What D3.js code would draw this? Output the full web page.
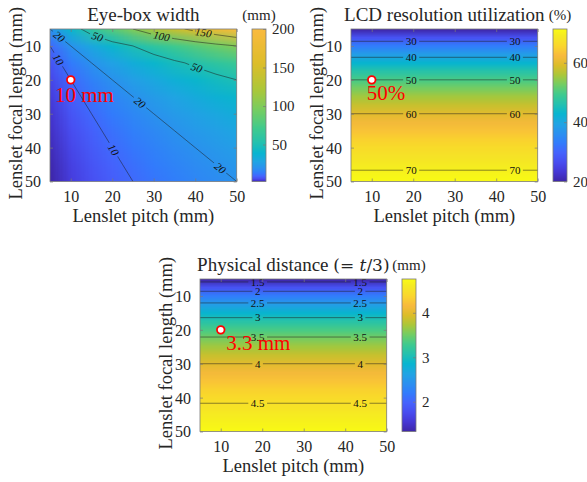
<!DOCTYPE html>
<html>
<head>
<meta charset="utf-8">
<script src="https://cdn.jsdelivr.net/npm/d3@7"></script>
<style>
  body { margin: 0; background: #fff; }
  svg { display: block; }
</style>
</head>
<body>
<div id="chart"></div>
<script>
// grid axes (mm)
const pitch = [5, 10, 15, 20, 25, 30, 35, 40, 45, 50];
const focal = [5, 10, 15, 20, 25, 30, 35, 40, 45, 50];
const focalFine = [5, 7.5, 10, 12.5, 15, 17.5, 20, 22.5, 25, 27.5, 30, 32.5, 35, 37.5, 40, 42.5, 45, 47.5, 50];

// eye-box width (mm), one row per focal length, one column per pitch
const eyeBox = [
  [20, 40, 60, 80, 100, 120, 140, 160, 180, 200],
  [10, 20, 30, 40, 50, 60, 70, 80, 90, 100],
  [6.7, 13.3, 20, 26.7, 33.3, 40, 46.7, 53.3, 60, 66.7],
  [5, 10, 15, 20, 25, 30, 35, 40, 45, 50],
  [4, 8, 12, 16, 20, 24, 28, 32, 36, 40],
  [3.3, 6.7, 10, 13.3, 16.7, 20, 23.3, 26.7, 30, 33.3],
  [2.9, 5.7, 8.6, 11.4, 14.3, 17.1, 20, 22.9, 25.7, 28.6],
  [2.5, 5, 7.5, 10, 12.5, 15, 17.5, 20, 22.5, 25],
  [2.2, 4.4, 6.7, 8.9, 11.1, 13.3, 15.6, 17.8, 20, 22.2],
  [2, 4, 6, 8, 10, 12, 14, 16, 18, 20]
];
// LCD resolution utilization (%) and physical distance (mm) per focal length (same for every pitch)
const lcdUtil = [20.0, 27.3, 33.3, 38.5, 42.9, 46.7, 50.0, 52.9, 55.6, 57.9, 60.0, 61.9, 63.6, 65.2, 66.7, 68.0, 69.2, 70.4, 71.4];
const physDist = [1.33, 1.82, 2.22, 2.56, 2.86, 3.11, 3.33, 3.53, 3.70, 3.86, 4.00, 4.13, 4.24, 4.35, 4.44, 4.53, 4.62, 4.69, 4.76];

// contour levels
const eyeLevels = [10, 20, 50, 100, 150];
const lcdLevels = [30, 40, 50, 60, 70];
const distLevels = [1.5, 2, 2.5, 3, 3.5, 4, 4.5];

// where the contour labels sit: [level, pitch, focal]
const eyeLabelSpots = [[20, 7.2, 7.2], [50, 16.6, 6.6], [100, 32, 6.3], [150, 42, 5.7], [50, 40.4, 16.2],
  [10, 7, 14], [20, 26.7, 26.7], [10, 20.3, 40.6], [20, 46, 46]];
const lcdLabelSpots = lcdLevels.flatMap(l => [[l, 19.5, 20], [l, 44.5, 20]]);
const distLabelSpots = distLevels.flatMap(l => [[l, 18.9, 20], [l, 43.6, 20]]);

// ticks
const axisTicks = [10, 20, 30, 40, 50];
const eyeCbTicks = [50, 100, 150, 200];
const lcdCbTicks = [20, 40, 60];
const distCbTicks = [2, 3, 4];

// design point markers
const designPitch = 10, designFocal = 20;
const noteTexts = ["10 mm", "50%", "3.3 mm"];

const W = 186.7, H = 152.5;
const textColor = "#262626";
const serif = "'Liberation Serif','Times New Roman',serif";
// parula (original), every 4th of 64 entries
const parulaStops = ["#3e26a8", "#4537d5", "#484df0", "#4563fd", "#327cfc", "#2b91ef", "#20a5e3", "#08b5d0",
  "#24c1ae", "#3fca8e", "#72cd64", "#abc739", "#dcbd29", "#f8ba3d", "#fad62d", "#f5e924", "#f9fb15"];
const parulaPos = [0, 4, 8, 12, 16, 20, 24, 28, 32, 36, 40, 44, 48, 52, 56, 60, 63].map(r => r / 63);
const parula = d3.scaleLinear().domain(parulaPos).range(parulaStops).clamp(true);

const eyeIdx = d3.scalePow().exponent(0.2).domain([2, 358]).range([0, 1]).clamp(true);
const lcdIdx = d3.scaleLinear().domain(d3.extent(lcdUtil)).range([0, 1]).clamp(true);
const distIdx = d3.scaleLinear().domain(d3.extent(physDist)).range([0, 1]).clamp(true);

const panels = [
  {left: 50, top: 29, cbx: 252, title: "Eye-box width", unit: "(mm)",
   cols: pitch, rows: focal, grid: eyeBox, cdomain: [2, 200], color: v => parula(eyeIdx(v)),
   levels: eyeLevels, spots: eyeLabelSpots, italic: true, cbTicks: eyeCbTicks,
   note: noteTexts[0], ndx: -15.7, ndy: 22},
  {left: 351, top: 29, cbx: 553, title: "LCD resolution utilization", unit: "(%)",
   cols: [5, 50], rows: focalFine, grid: lcdUtil.map(v => [v, v]), cdomain: d3.extent(lcdUtil), color: v => parula(lcdIdx(v)),
   levels: lcdLevels, spots: lcdLabelSpots, italic: false, cbTicks: lcdCbTicks,
   note: noteTexts[1], ndx: -5, ndy: 19.7},
  {left: 200, top: 279, cbx: 402, title: null, unit: "(mm)",
   cols: [5, 50], rows: focalFine, grid: physDist.map(v => [v, v]), cdomain: d3.extent(physDist), color: v => parula(distIdx(v)),
   levels: distLevels, spots: distLabelSpots, italic: false, cbTicks: distCbTicks,
   note: noteTexts[2], ndx: 5.5, ndy: 19.7}
];

const svg = d3.select("#chart").append("svg")
  .attr("width", 587)
  .attr("height", 482)
  .style("font-family", serif);
const defs = svg.append("defs");

panels.forEach(drawPanel);

function drawPanel(pn, k) {
  const x = d3.scaleLinear().domain([5, 50]).range([pn.left, pn.left + W]);
  const y = d3.scaleLinear().domain([5, 50]).range([pn.top, pn.top + H]);
  const n = pn.cols.length, m = pn.rows.length;

  // field: grid colours, upscaled smoothly
  const small = document.createElement("canvas");
  small.width = n; small.height = m;
  const sctx = small.getContext("2d");
  const img = sctx.createImageData(n, m);
  pn.grid.forEach((row, j) => row.forEach((v, i) => {
    const c = d3.rgb(pn.color(v));
    const o = (j * n + i) * 4;
    img.data[o] = c.r; img.data[o + 1] = c.g; img.data[o + 2] = c.b; img.data[o + 3] = 255;
  }));
  sctx.putImageData(img, 0, 0);
  const big = document.createElement("canvas");
  big.width = Math.round(W); big.height = Math.round(H);
  const bctx = big.getContext("2d");
  bctx.imageSmoothingEnabled = true;
  bctx.drawImage(small, 0.5, 0.5, n - 1, m - 1, 0, 0, big.width, big.height);
  svg.append("image")
    .attr("href", big.toDataURL())
    .attr("x", pn.left).attr("y", pn.top)
    .attr("width", W).attr("height", H)
    .attr("preserveAspectRatio", "none");

  // contours
  const gx = c => pn.cols[0] + (c - 0.5) * (pn.cols[n - 1] - pn.cols[0]) / (n - 1);
  const gy = c => pn.rows[0] + (c - 0.5) * (pn.rows[m - 1] - pn.rows[0]) / (m - 1);
  const conts = d3.contours().size([n, m]).thresholds(pn.levels)(pn.grid.flat());
  const path = d3.geoPath(d3.geoTransform({
    point: function (px, py) { this.stream.point(x(gx(px)), y(gy(py))); }
  }));

  const mask = defs.append("mask").attr("id", "cmask" + k)
    .attr("maskUnits", "userSpaceOnUse")
    .attr("x", pn.left).attr("y", pn.top).attr("width", W).attr("height", H);
  mask.append("rect").attr("x", pn.left).attr("y", pn.top).attr("width", W).attr("height", H).attr("fill", "#fff");

  svg.append("g").attr("mask", `url(#cmask${k})`)
    .selectAll("path").data(conts).enter().append("path")
    .attr("d", path)
    .attr("fill", "none")
    .attr("stroke", "#1e1e1e")
    .attr("stroke-width", 0.6)
    .attr("stroke-opacity", 0.85);

  // contour labels, snapped onto their line
  const segsByLevel = new Map();
  conts.forEach(c => {
    const segs = [];
    c.coordinates.forEach(poly => poly.forEach(ring => {
      const pts = ring.map(p => [x(gx(p[0])), y(gy(p[1]))]);
      for (let i = 1; i < pts.length; i++) {
        const a = pts[i - 1], b = pts[i];
        const inside = q => q[0] >= pn.left - 0.5 && q[0] <= pn.left + W + 0.5 && q[1] >= pn.top - 0.5 && q[1] <= pn.top + H + 0.5;
        if (inside(a) && inside(b) && (a[0] !== b[0] || a[1] !== b[1])) segs.push([a, b]);
      }
    }));
    segsByLevel.set(c.value, segs);
  });

  const labelG = svg.append("g");
  pn.spots.forEach(s => {
    const tx = x(s[1]), ty = y(s[2]);
    let best = null;
    (segsByLevel.get(s[0]) || []).forEach(([a, b]) => {
      const dx = b[0] - a[0], dy = b[1] - a[1];
      let t = ((tx - a[0]) * dx + (ty - a[1]) * dy) / (dx * dx + dy * dy);
      t = Math.max(0, Math.min(1, t));
      const px = a[0] + t * dx, py = a[1] + t * dy;
      const d = (px - tx) ** 2 + (py - ty) ** 2;
      if (!best || d < best.d) best = {d, px, py, ang: Math.atan2(dy, dx) * 180 / Math.PI};
    });
    if (!best) return;
    let ang = best.ang;
    if (ang > 90) ang -= 180;
    if (ang < -90) ang += 180;
    const tr = `translate(${best.px},${best.py}) rotate(${ang})`;
    const t = labelG.append("text")
      .attr("transform", tr)
      .attr("text-anchor", "middle")
      .attr("dy", "0.35em")
      .attr("font-size", 11)
      .attr("font-style", pn.italic ? "italic" : "normal")
      .attr("fill", "#111")
      .text(s[0]);
    const w = t.node().getComputedTextLength();
    mask.append("rect")
      .attr("transform", tr)
      .attr("x", -w / 2 - 2.5).attr("y", -6)
      .attr("width", w + 5).attr("height", 12)
      .attr("fill", "#000");
  });

  // axes box and inward ticks
  const axCol = "#7a7a7a";
  const xb = svg.append("g").attr("transform", `translate(0,${pn.top + H})`)
    .call(d3.axisBottom(x).tickValues(axisTicks).tickSize(-3).tickPadding(9.6));
  const xt = svg.append("g").attr("transform", `translate(0,${pn.top})`)
    .call(d3.axisTop(x).tickValues(axisTicks).tickSize(-3).tickFormat(""));
  const yl = svg.append("g").attr("transform", `translate(${pn.left},0)`)
    .call(d3.axisLeft(y).tickValues(axisTicks).tickSize(-3).tickPadding(9));
  const yr = svg.append("g").attr("transform", `translate(${pn.left + W},0)`)
    .call(d3.axisRight(y).tickValues(axisTicks).tickSize(-3).tickFormat(""));
  [xb, xt, yl, yr].forEach(g => {
    g.select(".domain").remove();
    g.selectAll(".tick line").attr("stroke", axCol).attr("stroke-width", 0.7);
    g.selectAll(".tick text").attr("fill", textColor).attr("font-size", 16).attr("font-family", serif);
  });
  yl.selectAll(".tick text").attr("dy", "0.34em");
  svg.append("rect")
    .attr("x", pn.left).attr("y", pn.top).attr("width", W).attr("height", H)
    .attr("fill", "none").attr("stroke", axCol).attr("stroke-width", 0.8);

  // axis labels
  svg.append("text")
    .attr("x", pn.left + W / 2).attr("y", pn.top + H + 40)
    .attr("text-anchor", "middle").attr("font-size", 18.5).attr("fill", textColor)
    .text("Lenslet pitch (mm)");
  svg.append("text")
    .attr("transform", `translate(${pn.left - 28},${pn.top + H / 2 - 2}) rotate(-90)`)
    .attr("text-anchor", "middle").attr("font-size", 18.5).attr("fill", textColor)
    .text("Lenslet focal length (mm)");

  // title
  const title = svg.append("text")
    .attr("x", pn.left + W / 2).attr("y", pn.top - 8.5)
    .attr("text-anchor", "middle").attr("font-size", 19).attr("fill", textColor);
  if (pn.title) {
    title.text(pn.title);
  } else {
    title.append("tspan").text("Physical distance ");
    title.append("tspan").attr("font-family", "'DejaVu Serif',serif").attr("font-size", 17).text("(= ");
    title.append("tspan").attr("font-family", "'DejaVu Serif',serif").attr("font-size", 17).attr("font-style", "italic").text("t");
    title.append("tspan").attr("font-family", "'DejaVu Serif',serif").attr("font-size", 17).text("/3)");
  }

  // colorbar
  const cbW = 14;
  const cy = d3.scaleLinear().domain(pn.cdomain).range([pn.top + H, pn.top]);
  svg.append("g").selectAll("rect")
    .data(d3.range(pn.top, pn.top + H, 1))
    .enter().append("rect")
    .attr("x", pn.cbx).attr("y", d => d)
    .attr("width", cbW).attr("height", d => Math.min(1.2, pn.top + H - d))
    .attr("fill", d => pn.color(cy.invert(d + 0.5)));
  svg.append("rect")
    .attr("x", pn.cbx).attr("y", pn.top).attr("width", cbW).attr("height", H)
    .attr("fill", "none").attr("stroke", axCol).attr("stroke-width", 0.8);
  const cbAxis = svg.append("g").attr("transform", `translate(${pn.cbx + cbW},0)`)
    .call(d3.axisRight(cy).tickValues(pn.cbTicks).tickSize(-3).tickPadding(6).tickFormat(d => String(d)));
  cbAxis.select(".domain").remove();
  cbAxis.selectAll(".tick line").attr("stroke", axCol).attr("stroke-width", 0.7);
  cbAxis.selectAll(".tick text").attr("fill", textColor).attr("font-size", 15).attr("font-family", serif);
  svg.append("text")
    .attr("x", pn.cbx + cbW / 2).attr("y", pn.top - 9.5)
    .attr("text-anchor", "middle").attr("font-size", 15).attr("fill", textColor)
    .text(pn.unit);

  // design point
  const mx = x(designPitch), my = y(designFocal);
  svg.append("circle")
    .attr("cx", mx).attr("cy", my).attr("r", 3.8)
    .attr("fill", "#fff").attr("stroke", "#ff0000").attr("stroke-width", 1.8);
  svg.append("text")
    .attr("x", mx + pn.ndx).attr("y", my + pn.ndy)
    .attr("font-size", 21).attr("fill", "#ff0000")
    .text(pn.note);
}
</script>
</body>
</html>
